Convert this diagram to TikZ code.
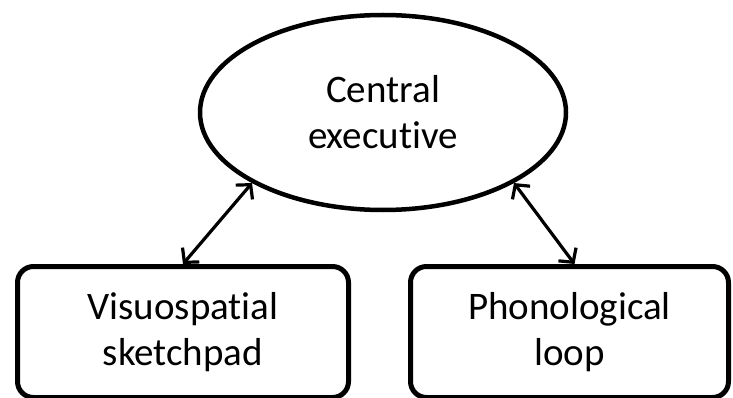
\documentclass[tikz,border=0pt]{standalone}
\usepackage{fontspec}
\setmainfont{Carlito}[Ligatures=NoCommon]
\usetikzlibrary{shapes.geometric,arrows.meta}
\begin{document}
\begin{tikzpicture}[x=1pt,y=-1pt,
  lbl/.style={align=center,font=\fontsize{39}{46}\selectfont,text=black},
  ovalbox/.style={lbl,draw,ellipse,line width=4.5pt,inner sep=0pt,minimum width=366pt,minimum height=195pt},
  roundbox/.style={lbl,draw,rectangle,rounded corners=16pt,line width=5pt,inner sep=0pt},
  link/.style={line width=3.2pt,{Straight Barb[length=10pt,width=22pt]}-{Straight Barb[length=10pt,width=22pt]}}]
\useasboundingbox (0,0) rectangle (733,398);
\node[ovalbox] (ce) at (383,112.5) {Central\\executive};
\node[roundbox,minimum width=331pt,minimum height=131pt] (vs) at (183,332) {Visuospatial\\sketchpad};
\node[roundbox,minimum width=318pt,minimum height=131pt] (pl) at (569.5,332) {Phonological\\loop};
\draw[link] (vs.north) -- (ce.south west);
\draw[link] ([xshift=5pt]pl.north) -- (ce.south east);
\end{tikzpicture}
\end{document}
